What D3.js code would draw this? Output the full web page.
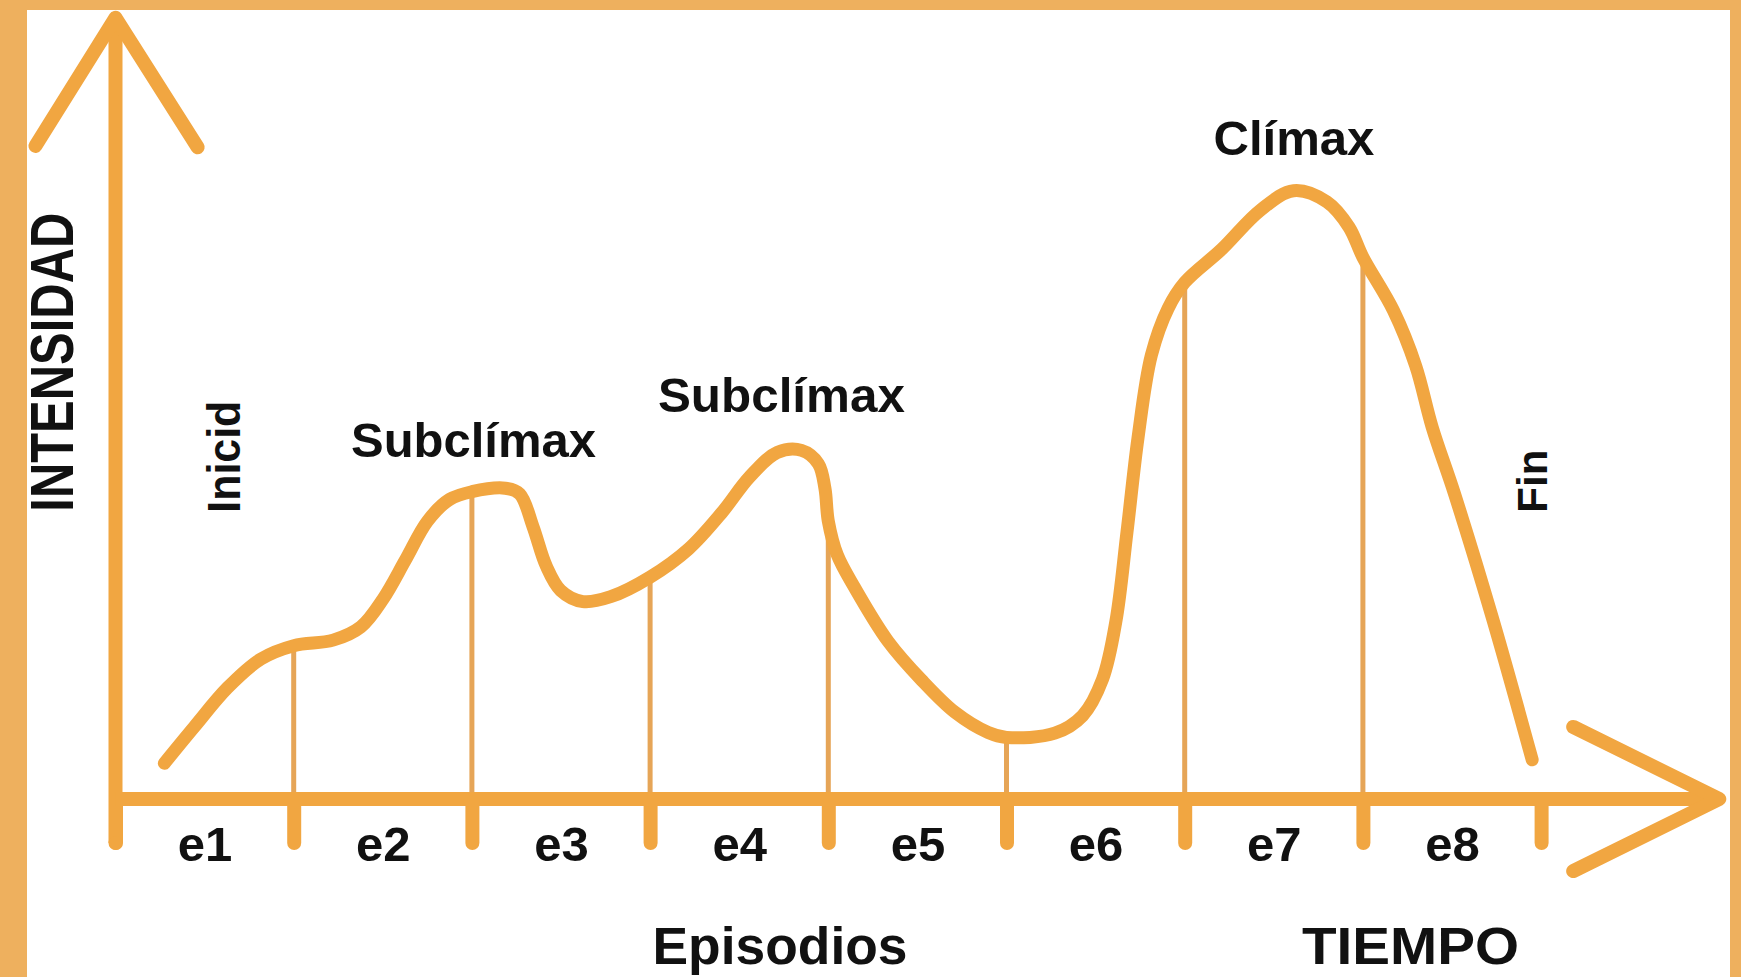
<!DOCTYPE html>
<html>
<head>
<meta charset="utf-8">
<script src="https://cdn.jsdelivr.net/npm/d3@7/dist/d3.min.js"></script>
<style>
  html, body { margin: 0; padding: 0; background: #ffffff; }
  svg { display: block; }
  text { font-family: "Liberation Sans", Arial, Helvetica, sans-serif; font-weight: bold; fill: #111111; }
</style>
</head>
<body>
<svg id="chart" width="1741" height="977"></svg>
<script>
// ---- data ----
const episodes = ["e1", "e2", "e3", "e4", "e5", "e6", "e7", "e8"];
const boundaries = [0, 1, 2, 3, 4, 5, 6, 7, 8];
const dividerAt = [1, 2, 3, 4, 5, 6, 7];
// intensity curve: position in episode units and intensity (0-100)
const curveE = [0.274,0.442,0.629,0.816,1.0,1.221,1.377,1.502,1.626,1.751,1.875,2.0,2.187,2.268,2.343,2.417,2.498,2.623,2.779,3.0,3.215,3.402,3.558,3.713,3.850,3.944,3.981,4.0,4.050,4.150,4.336,4.523,4.710,4.897,5.0,5.271,5.427,5.539,5.614,5.676,5.738,5.813,5.907,6.0,6.206,6.424,6.611,6.798,6.922,7.0,7.171,7.296,7.389,7.514,7.732,7.950];
const curveV = [5.1,10.3,15.9,20.0,21.9,22.7,24.6,28.6,34.1,39.7,42.8,43.9,44.4,43.6,38.9,33.3,29.8,28.2,28.9,31.7,35.7,40.9,46.0,49.5,49.8,47.9,44.4,39.7,34.9,30.1,22.5,17.0,12.4,9.5,8.8,9.4,11.9,17.1,25.4,38.1,51.6,63.4,70.1,73.8,78.5,84.1,86.9,85.3,81.7,77.4,69.8,61.9,53.1,43.6,25.4,5.6];
// annotations (horizontal)
const peakLabels = ["Subclímax", "Subclímax", "Clímax"];
const peakE = [2.009, 3.737, 6.613];
const peakV = [48.9, 55.3, 92.0];
// annotations (vertical)
const sideLabels = ["Inicid", "Fin"];
const sideE = [0.699, 8.033];
const sideV = [48.9, 45.4];
const yTitle = "INTENSIDAD";
const xTitles = ["Episodios", "TIEMPO"];
const xTitleE = [3.729, 7.267];

// ---- styling ----
const ORANGE = "#F1A641";
const BORDER = "#EEB05E";
const THIN = "#E6A557";

const svg = d3.select("#chart");
const W = 1741, H = 977;

const x = d3.scaleLinear().domain([0, 8]).range([115.5, 1541.1]);
const y = d3.scaleLinear().domain([0, 100]).range([799, 99]);

// frame
svg.append("rect").attr("x", 0).attr("y", 0).attr("width", W).attr("height", H).attr("fill", "#ffffff");
svg.append("rect").attr("x", 0).attr("y", 0).attr("width", 27).attr("height", H).attr("fill", BORDER);
svg.append("rect").attr("x", 0).attr("y", 0).attr("width", W).attr("height", 10).attr("fill", BORDER);
svg.append("rect").attr("x", 1730).attr("y", 0).attr("width", 11).attr("height", H).attr("fill", BORDER);

const g = svg.append("g");

// dividers (thin vertical lines from axis to curve)
const pts = curveE.map((e, i) => ({ e: e, v: curveV[i] }));
g.selectAll("line.divider").data(dividerAt).enter().append("line")
  .attr("class", "divider")
  .attr("x1", d => x(d)).attr("x2", d => x(d))
  .attr("y1", y(0)).attr("y2", d => y(pts.find(p => p.e === d).v))
  .attr("stroke", THIN).attr("stroke-width", 5);

// x axis ticks using d3 axis
const tickAxis = d3.axisBottom(x).tickValues(boundaries).tickSizeInner(44).tickSizeOuter(0).tickFormat("");
const tickG = g.append("g").attr("transform", `translate(0,${y(0)})`).call(tickAxis);
tickG.select(".domain").remove();
tickG.selectAll(".tick line").attr("stroke", ORANGE).attr("stroke-width", 14).attr("stroke-linecap", "round");

// episode labels via second axis centered between ticks
const labelAxis = d3.axisBottom(x).tickValues(episodes.map((d, i) => i + 0.5))
  .tickSize(0).tickFormat((d, i) => episodes[i]);
const labG = g.append("g").attr("transform", `translate(0,${y(0)})`).call(labelAxis);
labG.select(".domain").remove();
labG.selectAll(".tick text")
  .attr("y", 62).attr("dy", 0)
  .style("font-family", '"Liberation Sans", Arial, sans-serif')
  .style("font-weight", "bold").style("font-size", "49px").attr("fill", "#111");

// axes lines with arrows
const axisLine = d3.line().x(d => x(d[0])).y(d => y(d[1]));
const axisStyle = sel => sel.attr("fill", "none").attr("stroke", ORANGE).attr("stroke-width", 14)
  .attr("stroke-linecap", "round").attr("stroke-linejoin", "round");
// y axis (extends to tick bottom)
g.append("path").attr("d", axisLine([[0, -6.3], [0, 111.6]])).call(axisStyle).attr("stroke-linecap", "butt");
g.append("path").attr("d", axisLine([[-0.449, 93.3], [0, 111.6], [0.461, 93.1]])).call(axisStyle);
// x axis
g.append("path").attr("d", axisLine([[0, 0], [9.0, 0]])).call(axisStyle).attr("stroke-linecap", "butt");
g.append("path").attr("d", axisLine([[8.18, 10.3], [9.0, 0], [8.18, -10.3]])).call(axisStyle);
// rounded bottom of y axis
g.append("circle").attr("cx", x(0)).attr("cy", y(-6.3)).attr("r", 7).attr("fill", ORANGE);

// intensity curve
const line = d3.line().x(d => x(d.e)).y(d => y(d.v)).curve(d3.curveCatmullRom.alpha(0.5));
g.append("path").datum(pts).attr("d", line)
  .attr("fill", "none").attr("stroke", ORANGE).attr("stroke-width", 13)
  .attr("stroke-linecap", "round").attr("stroke-linejoin", "round");

// peak labels
const peakLen = [245, 247, 161];
g.selectAll("text.peak").data(peakLabels).enter().append("text")
  .attr("class", "peak")
  .attr("x", (d, i) => x(peakE[i])).attr("y", (d, i) => y(peakV[i]))
  .attr("text-anchor", "middle").style("font-size", "48px")
  .attr("textLength", (d, i) => peakLen[i]).attr("lengthAdjust", "spacingAndGlyphs")
  .text(d => d);

// vertical side labels
const sideSize = [46, 43];
const sideLen = [112, 63];
g.selectAll("text.side").data(sideLabels).enter().append("text")
  .attr("class", "side")
  .attr("transform", (d, i) => `translate(${x(sideE[i])},${y(sideV[i])}) rotate(-90)`)
  .attr("text-anchor", "middle").style("font-size", (d, i) => sideSize[i] + "px")
  .attr("textLength", (d, i) => sideLen[i]).attr("lengthAdjust", "spacingAndGlyphs")
  .text(d => d);

// y title
g.append("text")
  .attr("transform", `translate(${x(-0.239)},${y(62.4)}) rotate(-90)`)
  .attr("text-anchor", "middle").style("font-size", "62px")
  .attr("textLength", 299).attr("lengthAdjust", "spacingAndGlyphs")
  .text(yTitle);

// x titles
const xTitleLen = [255, 217];
g.selectAll("text.xtitle").data(xTitles).enter().append("text")
  .attr("class", "xtitle")
  .attr("x", (d, i) => x(xTitleE[i])).attr("y", y(-23.5))
  .attr("text-anchor", "middle").style("font-size", "51px")
  .attr("textLength", (d, i) => xTitleLen[i]).attr("lengthAdjust", "spacingAndGlyphs")
  .text(d => d);
</script>
</body>
</html>
